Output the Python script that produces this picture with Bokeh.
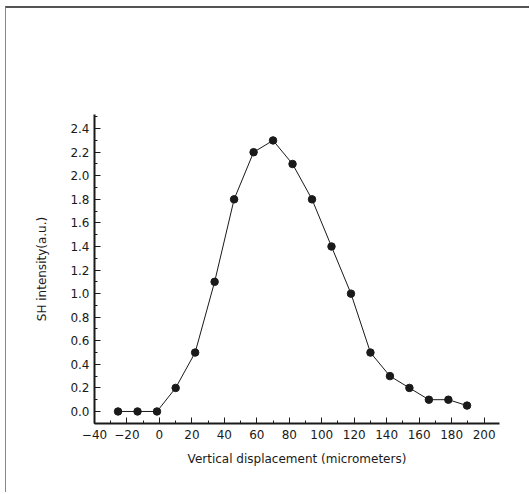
from bokeh.plotting import figure
from bokeh.models import Range1d, SingleIntervalTicker, PrintfTickFormatter
from bokeh.embed import file_html
from bokeh.resources import INLINE

# Data
displacement = [-25.5, -13.5, -1.5, 10, 22, 34, 46, 58, 70, 82, 94, 106, 118, 130, 142, 154, 166, 178, 189.5]
intensity = [0.0, 0.0, 0.0, 0.2, 0.5, 1.1, 1.8, 2.2, 2.3, 2.1, 1.8, 1.4, 1.0, 0.5, 0.3, 0.2, 0.1, 0.1, 0.05]

x_label = "Vertical displacement (micrometers)"
y_label = "SH intensity(a.u.)"

FONT = "DejaVu Sans"
INK = "#1a1a1a"

p = figure(
    width=524, height=486,
    output_backend="svg", toolbar_location=None,
    x_range=Range1d(-40, 209.5), y_range=Range1d(-0.102, 2.52),
    min_border_left=88, min_border_right=31,
    min_border_top=106, min_border_bottom=71,
    styles={"margin-left": "5px", "margin-top": "6px",
            "border-top": "2px solid #555555", "border-left": "1px solid #888888"},
)
p.outline_line_color = None
p.xgrid.grid_line_color = None
p.ygrid.grid_line_color = None
p.background_fill_color = "white"
p.border_fill_color = "white"

p.line(displacement, intensity, line_color=INK, line_width=1)
p.scatter(displacement, intensity, size=7.5, fill_color=INK, line_color=INK)

xa = p.xaxis[0]
xa.ticker = SingleIntervalTicker(interval=20, num_minor_ticks=2)
ya = p.yaxis[0]
ya.ticker = SingleIntervalTicker(interval=0.2, num_minor_ticks=2)
ya.formatter = PrintfTickFormatter(format="%.1f")

for ax in (xa, ya):
    ax.axis_line_width = 2
    ax.axis_line_color = INK
    ax.major_tick_in = 6
    ax.major_tick_out = 0
    ax.minor_tick_in = 3
    ax.minor_tick_out = 0
    ax.major_tick_line_color = INK
    ax.minor_tick_line_color = INK
    ax.major_label_text_font = FONT
    ax.major_label_text_font_size = "12px"
    ax.major_label_text_color = INK
    ax.axis_label_text_font = FONT
    ax.axis_label_text_font_size = "12px"
    ax.axis_label_text_font_style = "normal"
    ax.axis_label_text_color = INK

xa.axis_label = x_label
ya.axis_label = y_label
xa.major_label_standoff = 6
ya.major_label_standoff = 5
xa.axis_label_standoff = 10
ya.axis_label_standoff = 18

open("out.html", "w").write(file_html(p, INLINE))
